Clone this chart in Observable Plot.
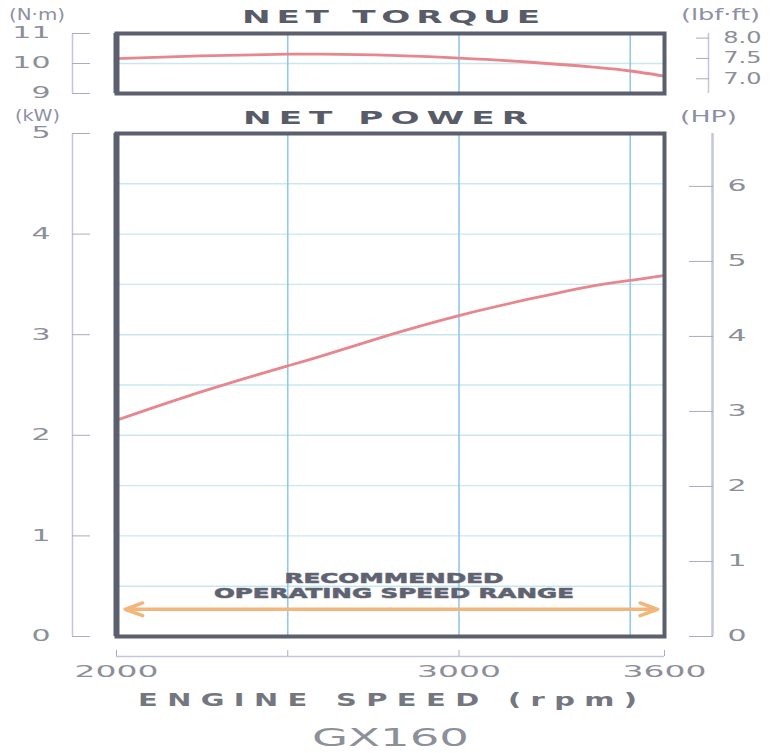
<!DOCTYPE html>
<html><head><meta charset="utf-8">
<script src="https://cdn.jsdelivr.net/npm/d3@7"></script>
<script src="https://cdn.jsdelivr.net/npm/@observablehq/plot@0.6"></script>
<style>
body{margin:0;background:#fff;}
#chart{position:relative;width:779px;height:753px;overflow:hidden;font-family:"DejaVu Sans",sans-serif;background:#fff;}
#chart > div.p{position:absolute;left:0;}
.lbl{position:absolute;white-space:nowrap;line-height:0.8;}
</style></head><body><div id="chart"></div>
<script>
// ---- data ----
const rpm       = [2000, 2200, 2400, 2500, 2600, 2800, 3000, 3200, 3400, 3500, 3600];
const torqueNm  = [10.16, 10.24, 10.29, 10.31, 10.31, 10.27, 10.18, 10.05, 9.87, 9.75, 9.58];
const powerKW   = [2.15, 2.38, 2.59, 2.69, 2.79, 3.00, 3.19, 3.35, 3.49, 3.54, 3.59];
const xTicks    = [2000, 2500, 3000, 3600];
const xLabels   = ["2000", "", "3000", "3600"];
const xGrid     = [2500, 3000, 3500];
const nmTicks   = [9, 10, 11];
const lbfTicks  = [7.0, 7.5, 8.0];
const kwTicks   = [0, 1, 2, 3, 4, 5];
const hpTicks   = [0, 1, 2, 3, 4, 5, 6];
const kwGrid    = [0.5, 1, 1.5, 2, 2.5, 3, 3.5, 4, 4.5];
const nmGrid    = [10];
const rangeRpm  = [2025, 3580];
const rangeKW   = 0.27;
const recLines  = ["RECOMMENDED", "OPERATING SPEED RANGE"];
const recKW     = [0.58, 0.43];

const NM_PER_LBF = 1.35582, KW_PER_HP = 0.7457;
const rows = rpm.map((r, i) => ({rpm: r, torque: torqueNm[i], power: powerKW[i]}));

// ---- styles ----
const frameC = "#5b5f6e", gridV = "#92c8ea", gridH = "#c9e7ef", curveC = "#e8868e",
      axisC = "#c3c6dd", tickC = "#a9acbf", labelC = "#8c8e98", arrowC = "#f2b67a";
const W = 779;
const common = {width: W, marginLeft: 116, marginRight: 115,
  x: {domain: [2000, 3600], axis: null},
  style: {fontFamily: "DejaVu Sans", fontSize: "15px", color: labelC, background: "transparent"}};

const torquePlot = Plot.plot({
  ...common, height: 106, marginTop: 33, marginBottom: 13,
  y: {domain: [9, 11], axis: null},
  marks: [
    Plot.ruleY(nmGrid, {stroke: gridH, strokeWidth: 1.4}),
    Plot.ruleX(xGrid, {stroke: gridV, strokeWidth: 1.6}),
    Plot.line(rows, {x: "rpm", y: "torque", stroke: curveC, strokeWidth: 2.8, curve: "natural"}),
    Plot.frame({stroke: frameC, strokeWidth: 4}),
    Plot.ruleX([2000], {y1: 9, y2: 11, stroke: frameC, strokeWidth: 6}),
    // left N·m axis
    Plot.ruleX([2000], {y1: 9, y2: 11, dx: -44, stroke: axisC, strokeWidth: 1.5}),
    Plot.axisY(nmTicks, {anchor: "left", label: null, dx: -26, tickSize: 18, stroke: tickC, tickFormat: () => ""}),
    Plot.text(nmTicks, {y: d => d, frameAnchor: "left", dx: -66, textAnchor: "end", text: d => String(d), fill: labelC}),
    // right lbf·ft axis
    Plot.ruleX([3600], {y1: 9, y2: 11, dx: 44, stroke: axisC, strokeWidth: 1.5}),
    Plot.axisY(lbfTicks.map(v => v * NM_PER_LBF), {anchor: "right", label: null, dx: 31, tickSize: 13, stroke: tickC, tickFormat: () => ""}),
    Plot.text(lbfTicks, {y: d => d * NM_PER_LBF, frameAnchor: "right", dx: 97, textAnchor: "end",
      text: d => d.toFixed(1), fill: labelC})
  ]
});

const powerPlot = Plot.plot({
  ...common, height: 600, marginTop: 33, marginBottom: 64,
  y: {domain: [0, 5], axis: null},
  marks: [
    Plot.ruleY(kwGrid, {stroke: gridH, strokeWidth: 1.4}),
    Plot.ruleX(xGrid, {stroke: gridV, strokeWidth: 1.6}),
    Plot.line(rows, {x: "rpm", y: "power", stroke: curveC, strokeWidth: 2.8, curve: "natural"}),
    Plot.text(recLines, {x: () => 2810, y: (d, i) => recKW[i], text: d => d, fill: "#5f6270",
      stroke: "#7d808c", strokeWidth: 0.7, fontWeight: 900, fontSize: 14, fontFamily: "DejaVu Sans"}),
    Plot.arrow([0], {x1: () => 2800, x2: () => rangeRpm[1], y1: () => rangeKW, y2: () => rangeKW,
      stroke: arrowC, strokeWidth: 3.5, headLength: 8, headAngle: 40}),
    Plot.arrow([0], {x1: () => 2800, x2: () => rangeRpm[0], y1: () => rangeKW, y2: () => rangeKW,
      stroke: arrowC, strokeWidth: 3.5, headLength: 8, headAngle: 40}),
    Plot.frame({stroke: frameC, strokeWidth: 4}),
    Plot.ruleX([2000], {y1: 0, y2: 5, stroke: frameC, strokeWidth: 6}),
    // left kW axis
    Plot.ruleX([2000], {y1: 0, y2: 5, dx: -44, stroke: axisC, strokeWidth: 1.5}),
    Plot.axisY(kwTicks, {anchor: "left", label: null, dx: -26, tickSize: 18, stroke: tickC, tickFormat: () => ""}),
    Plot.text(kwTicks, {y: d => d, frameAnchor: "left", dx: -66, textAnchor: "end", text: d => String(d), fill: labelC}),
    // right HP axis
    Plot.ruleX([3600], {y1: 0, y2: 5, dx: 48, stroke: axisC, strokeWidth: 2.5}),
    Plot.axisY(hpTicks.map(v => v * KW_PER_HP), {anchor: "right", label: null, dx: 24, tickSize: 24, stroke: tickC, tickFormat: () => ""}),
    Plot.text(hpTicks, {y: d => d * KW_PER_HP, frameAnchor: "right", dx: 82, textAnchor: "end",
      text: d => String(d), fill: labelC}),
    // bottom rpm axis
    Plot.ruleY([0], {x1: 2000, x2: 3600, dy: 20, stroke: axisC, strokeWidth: 1.5}),
    Plot.axisX(xTicks, {anchor: "bottom", label: null, dy: 14, tickSize: 6, tickPadding: 10, stroke: tickC, fill: labelC,
      tickFormat: d => xLabels[xTicks.indexOf(d)]})
  ]
});

const chart = document.getElementById("chart");
function place(node, top) {
  const d = document.createElement("div"); d.className = "p"; d.style.top = top + "px";
  d.appendChild(node); chart.appendChild(d);
}
place(torquePlot, 0);
place(powerPlot, 100);

// widen tick labels (extended typeface in the reference): horizontal scale about the anchor point
function widen(nodes, k) {
  nodes.forEach(t => {
    const tr = t.getAttribute("transform") || "";
    t.setAttribute("transform", (tr + ` scale(${k},1)`).trim());
  });
}
const textGroups = svg => [...svg.querySelectorAll('g[aria-label="text"]')];
const tg = textGroups(torquePlot), pg = textGroups(powerPlot);
widen(tg[0].querySelectorAll("text"), 2.0);   // N·m
widen(tg[1].querySelectorAll("text"), 1.6);   // lbf·ft
widen(pg[1].querySelectorAll("text"), 2.0);   // kW
widen(pg[2].querySelectorAll("text"), 2.0);   // HP
widen(powerPlot.querySelectorAll('g[aria-label="x-axis tick label"] text'), 2.2);
// stretch the range label
const recW = [219, 360];
pg[0].querySelectorAll("text").forEach((t, i) => {
  t.setAttribute("textLength", recW[i]); t.setAttribute("lengthAdjust", "spacingAndGlyphs");
});

// ---- HTML labels ----
function label(text, {left, cx, cy, size, width, weight = 400, color = labelC, sx = null}) {
  const d = document.createElement("div");
  d.className = "lbl"; d.textContent = text;
  d.style.fontSize = size + "px"; d.style.fontWeight = weight; d.style.color = color;
  d.style.top = (cy - 0.381 * size) + "px";
  chart.appendChild(d);
  const w0 = d.getBoundingClientRect().width;
  d.style.transformOrigin = "0 0";
  if (sx) {
    const ls = (width / sx - w0) / (text.length - 1);
    d.style.letterSpacing = ls + "px";
    d.style.transform = `scaleX(${sx})`;
  } else {
    d.style.transform = `scaleX(${width / w0})`;
  }
  const L = left !== undefined ? left : cx - width / 2;
  d.style.left = L + "px";
}
const unitC = "#8d90a4", titleC = "#585c68";
label("(N·m)", {left: 9, cy: 15, size: 15, width: 56, color: unitC});
label("(lbf·ft)", {left: 681, cy: 15, size: 15, width: 79, color: unitC});
label("NET TORQUE", {left: 242, cy: 17, size: 18, width: 298, weight: 800, color: titleC, sx: 1.9});
label("(kW)", {left: 15, cy: 116, size: 15, width: 45, color: unitC});
label("NET POWER", {left: 243, cy: 118, size: 18, width: 285, weight: 800, color: titleC, sx: 1.9});
label("(HP)", {left: 680, cy: 117, size: 15, width: 57, color: unitC});
label("ENGINE SPEED (rpm)", {left: 138, cy: 700, size: 17, width: 499, weight: 800, color: "#74777f", sx: 1.7});
label("GX160", {cx: 390, cy: 738, size: 24, width: 157, color: "#8d9098"});
</script></body></html>
